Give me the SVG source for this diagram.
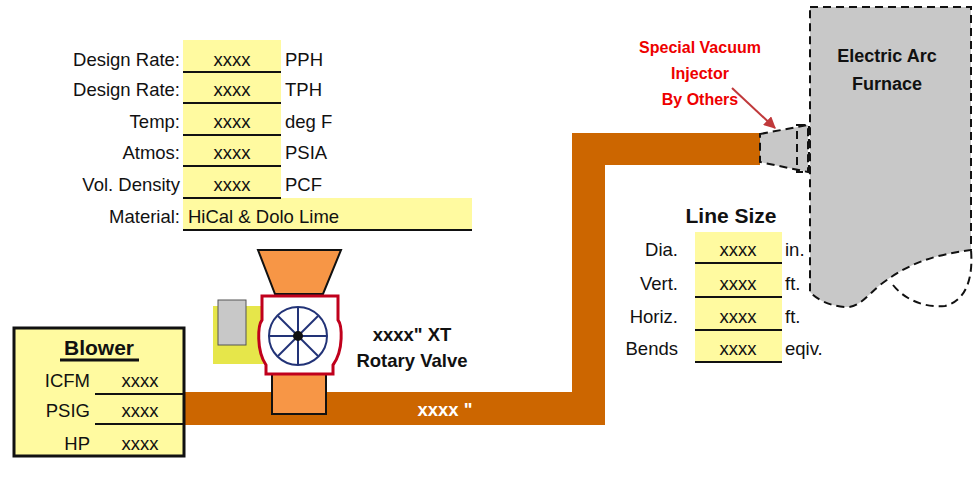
<svg xmlns="http://www.w3.org/2000/svg" width="980" height="479" viewBox="0 0 980 479">
<defs>
<style>
.t{font-family:"Liberation Sans",Arial,sans-serif;font-size:18.5px;fill:#111}
.r{text-anchor:end}.m{text-anchor:middle}
.b{font-weight:bold}
.cell{fill:#fffaa0}
.ul{stroke:#111;stroke-width:2}
.pipe{fill:#cc6600}
.dash{fill:none;stroke:#111;stroke-width:2;stroke-dasharray:8,5}
</style>
<marker id="ah" viewBox="0 0 10 10" refX="9" refY="5" markerWidth="6" markerHeight="6" orient="auto"><path d="M0,0L10,5L0,10z" fill="#c0393b"/></marker>
</defs>
<rect width="980" height="479" fill="#fff"/>
<g id="connectors">
<path class="pipe" d="M185,392H572V133H760V165H605V425H185z"/>
<text class="t b m" x="445" y="416" style="fill:#fff">xxxx "</text>
<line x1="732" y1="88" x2="775" y2="128" stroke="#c0393b" stroke-width="2" marker-end="url(#ah)"/>
</g>
<g id="furnace">
<path d="M810,7H971V250C935,255 910,262 880,285C865,298 858,308 845,307C828,306 815,298 810,292z" fill="#c8c8c8"/>
<path class="dash" d="M810,7H971V250C935,255 910,262 880,285C865,298 858,308 845,307C828,306 815,298 810,292z"/>
<path class="dash" d="M893,285C905,300 925,308 945,306C968,300 973,275 971,250"/>
<text class="t b m" x="887" y="62" style="font-size:18px">Electric Arc</text>
<text class="t b m" x="887" y="90" style="font-size:18px">Furnace</text>
</g>
<g id="injector">
<path d="M760,134L808,125V172L760,162z" fill="#c8c8c8"/>
<path class="dash" d="M760,134L808,125V172L760,162z"/>
<rect class="dash" x="797" y="125" width="12" height="47"/>
<text class="t b m" x="700" y="53" style="fill:#e00;font-size:16px">Special Vacuum</text>
<text class="t b m" x="700" y="79" style="fill:#e00;font-size:16px">Injector</text>
<text class="t b m" x="700" y="105" style="fill:#e00;font-size:16px">By Others</text>
</g>
<g id="valve">
<path d="M258,250H341L323,294H275z" fill="#f79646" stroke="#111" stroke-width="2"/>
<rect x="272" y="374" width="54" height="40" fill="#f79646" stroke="#111" stroke-width="2"/>
<rect x="213" y="306" width="62" height="58" fill="#e6e64a"/>
<rect x="218" y="300" width="28" height="45" fill="#c8c8c8" stroke="#555"/>
<path d="M262,296H338V320C342,325 344,350 333,365V374H266V365C256,350 258,325 262,320z" fill="#fff" stroke="#c0001c" stroke-width="3"/>
<circle cx="298" cy="336" r="29" fill="none" stroke="#223377" stroke-width="2"/>
<g stroke="#223377" stroke-width="2">
<line x1="269" y1="336" x2="327" y2="336"/><line x1="298" y1="307" x2="298" y2="365"/>
<line x1="278" y1="316" x2="318" y2="356"/><line x1="318" y1="316" x2="278" y2="356"/>
</g>
<circle cx="298" cy="336" r="5" fill="#111"/>
<text class="t b m" x="412" y="341">xxxx" XT</text>
<text class="t b m" x="412" y="367">Rotary Valve</text>
</g>
<g id="design-table">
<rect class="cell" x="183" y="40" width="98" height="158"/>
<rect class="cell" x="183" y="198" width="289" height="32"/>
<g class="ul"><line x1="183" y1="72" x2="281" y2="72"/><line x1="183" y1="103" x2="281" y2="103"/><line x1="183" y1="135" x2="281" y2="135"/><line x1="183" y1="166" x2="281" y2="166"/><line x1="183" y1="198" x2="281" y2="198"/><line x1="183" y1="230" x2="472" y2="230"/></g>
<text class="t r" x="180" y="66">Design Rate:</text><text class="t m" x="232" y="66">xxxx</text><text class="t" x="285" y="66">PPH</text>
<text class="t r" x="180" y="96">Design Rate:</text><text class="t m" x="232" y="96">xxxx</text><text class="t" x="285" y="96">TPH</text>
<text class="t r" x="180" y="128">Temp:</text><text class="t m" x="232" y="128">xxxx</text><text class="t" x="285" y="128">deg F</text>
<text class="t r" x="180" y="159">Atmos:</text><text class="t m" x="232" y="159">xxxx</text><text class="t" x="285" y="159">PSIA</text>
<text class="t r" x="180" y="191">Vol. Density</text><text class="t m" x="232" y="191">xxxx</text><text class="t" x="285" y="191">PCF</text>
<text class="t r" x="180" y="223">Material:</text><text class="t" x="188" y="223">HiCal &amp; Dolo Lime</text>
</g>
<g id="line-size">
<text class="t b m" x="731" y="223" style="font-size:21px">Line Size</text>
<rect class="cell" x="695" y="232" width="87" height="130"/>
<g class="ul"><line x1="695" y1="263" x2="782" y2="263"/><line x1="695" y1="297" x2="782" y2="297"/><line x1="695" y1="330" x2="782" y2="330"/><line x1="695" y1="362" x2="782" y2="362"/></g>
<text class="t r" x="678" y="256">Dia.</text><text class="t m" x="738" y="256">xxxx</text><text class="t" x="785" y="256">in.</text>
<text class="t r" x="678" y="290">Vert.</text><text class="t m" x="738" y="290">xxxx</text><text class="t" x="785" y="290">ft.</text>
<text class="t r" x="678" y="323">Horiz.</text><text class="t m" x="738" y="323">xxxx</text><text class="t" x="785" y="323">ft.</text>
<text class="t r" x="678" y="355">Bends</text><text class="t m" x="738" y="355">xxxx</text><text class="t" x="785" y="355">eqiv.</text>
</g>
<g id="blower">
<rect x="14" y="328" width="170" height="128" fill="#fffaa0" stroke="#111" stroke-width="3"/>
<text class="t b m" x="99" y="355" style="font-size:21px">Blower</text>
<line x1="60" y1="360" x2="139" y2="360" stroke="#111" stroke-width="3"/>
<g class="ul"><line x1="95" y1="394" x2="184" y2="394"/><line x1="95" y1="424" x2="184" y2="424"/></g>
<text class="t r" x="90" y="387">ICFM</text><text class="t m" x="140" y="387">xxxx</text>
<text class="t r" x="90" y="417">PSIG</text><text class="t m" x="140" y="417">xxxx</text>
<text class="t r" x="90" y="450">HP</text><text class="t m" x="140" y="450">xxxx</text>
</g>
</svg>
